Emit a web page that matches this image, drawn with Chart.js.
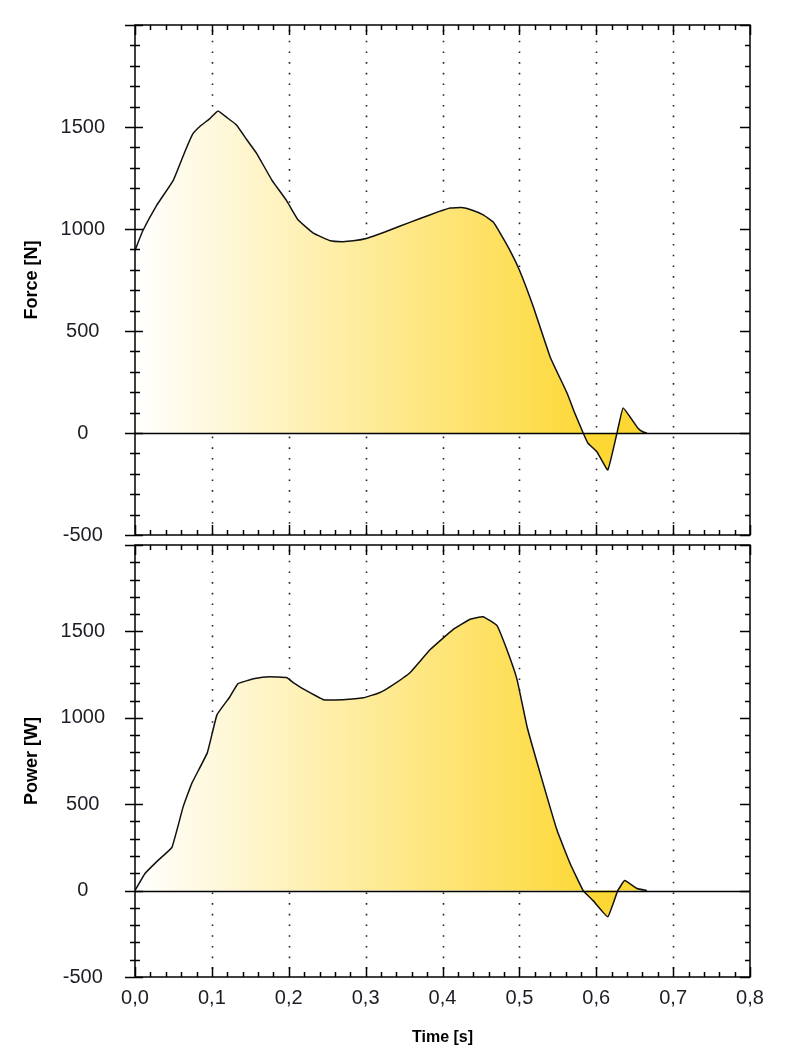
<!DOCTYPE html>
<html>
<head>
<meta charset="utf-8">
<script src="https://cdn.jsdelivr.net/npm/chart.js@4.4.1/dist/chart.umd.min.js"></script>
<style>
  html, body { margin: 0; padding: 0; background: #fff; }
  #wrap { position: relative; width: 789px; height: 1062px; }
  #c-force { position: absolute; left: 0; top: 0; width: 789px; height: 545px; }
  #c-power { position: absolute; left: 0; top: 540px; width: 789px; height: 522px; }
</style>
</head>
<body>
<div id="wrap">
  <canvas id="c-force" width="789" height="545"></canvas>
  <canvas id="c-power" width="789" height="522"></canvas>
</div>
<script>
// ==================== DATA ====================

const forceTime = [0, 0.01, 0.028, 0.05, 0.065, 0.075, 0.085, 0.097, 0.108, 0.12, 0.132, 0.145, 0.158, 0.178, 0.197, 0.212, 0.232, 0.254, 0.27, 0.284, 0.302, 0.325, 0.345, 0.37, 0.395, 0.41, 0.425, 0.438, 0.453, 0.466, 0.475, 0.487, 0.5, 0.518, 0.54, 0.562, 0.572, 0.583, 0.589, 0.601, 0.615, 0.627, 0.635, 0.654, 0.661, 0.666];
const forceValues = [895, 990, 1115, 1240, 1380, 1465, 1505, 1540, 1578, 1545, 1510, 1440, 1372, 1240, 1140, 1045, 980, 942, 938, 942, 955, 985, 1015, 1050, 1085, 1103, 1105, 1093, 1069, 1034, 980, 900, 799, 620, 373, 196, 98, 0, -49, -93, -181, 0, 123, 25, 5, 0];

const powerTime = [0, 0.013, 0.03, 0.048, 0.0625, 0.074, 0.094, 0.1066, 0.1235, 0.134, 0.156, 0.1756, 0.197, 0.207, 0.218, 0.245, 0.27, 0.297, 0.318, 0.332, 0.358, 0.384, 0.414, 0.436, 0.4526, 0.4707, 0.4837, 0.497, 0.51, 0.527, 0.549, 0.566, 0.583, 0.596, 0.615, 0.628, 0.637, 0.653, 0.666];
const powerValues = [0, 99, 175, 250, 483, 622, 797, 1017, 1122, 1198, 1227, 1238, 1233, 1200, 1169, 1105, 1105, 1116, 1145, 1180, 1262, 1395, 1512, 1570, 1585, 1535, 1395, 1221, 948, 680, 349, 157, 0, -58, -151, 0, 58, 12, 0];

const xTickLabels = ['0,0', '0,1', '0,2', '0,3', '0,4', '0,5', '0,6', '0,7', '0,8'];
const yTickLabels = ['-500', '0', '500', '1000', '1500', ''];

// ==================== STYLE ====================

const TICK_FONT = { family: "'Liberation Sans', Arial, sans-serif", size: 20 };
const TICK_COLOR = '#1d1d26';
const GOLD = '#fdd835';

function toPoints(xs, ys) {
  return xs.map((t, i) => ({ x: t, y: ys[i] }));
}

function fillGradient(context) {
  const chart = context.chart;
  if (!chart.chartArea) return GOLD;
  const xs = chart.scales.x;
  const g = chart.ctx.createLinearGradient(xs.getPixelForValue(0), 0, xs.getPixelForValue(0.6), 0);
  g.addColorStop(0, '#ffffff');
  g.addColorStop(1, GOLD);
  return g;
}

// ==================== FRAME / TICKS PLUGIN ====================

const frameTicks = {
  id: 'frameTicks',
  beforeDatasetsDraw(chart) {
    const { ctx, chartArea: a, scales: { x } } = chart;
    ctx.save();
    ctx.strokeStyle = '#222';
    ctx.lineWidth = 1.6;
    ctx.setLineDash([1.6, 9.1]);
    for (let i = 1; i < xTickLabels.length - 1; i++) {
      const px = Math.round(x.getPixelForValue(i / 10)) + 0.5;
      ctx.beginPath();
      ctx.moveTo(px, a.top + 5);
      ctx.lineTo(px, a.bottom);
      ctx.stroke();
    }
    ctx.restore();
  },
  afterDatasetsDraw(chart) {
    const { ctx, chartArea: a, scales: { x, y } } = chart;
    ctx.save();
    ctx.strokeStyle = '#000';
    ctx.lineWidth = 1.5;

    // zero line
    const y0 = Math.round(y.getPixelForValue(0)) + 0.5;
    ctx.beginPath();
    ctx.moveTo(a.left, y0);
    ctx.lineTo(a.right, y0);
    ctx.stroke();

    // frame
    ctx.strokeRect(a.left, a.top, a.right - a.left, a.bottom - a.top);

    // y ticks (left crosses axis, right inward)
    for (let i = 0; i <= 25; i++) {
      const v = -500 + i * 100;
      const py = Math.round(y.getPixelForValue(v)) + 0.5;
      const major = v % 500 === 0;
      ctx.beginPath();
      if (major) {
        ctx.moveTo(a.left - 10, py); ctx.lineTo(a.left + 8, py);
        ctx.moveTo(a.right - 10, py); ctx.lineTo(a.right, py);
      } else {
        ctx.moveTo(a.left - 5, py); ctx.lineTo(a.left + 5, py);
        ctx.moveTo(a.right - 5, py); ctx.lineTo(a.right, py);
      }
      ctx.stroke();
    }

    // x ticks (inward, top and bottom)
    for (let i = 0; i <= 40; i++) {
      const px = Math.round(x.getPixelForValue(i * 0.02)) + 0.5;
      const len = i % 5 === 0 ? 10 : 5;
      ctx.beginPath();
      ctx.moveTo(px, a.top); ctx.lineTo(px, a.top + len);
      ctx.moveTo(px, a.bottom); ctx.lineTo(px, a.bottom - len);
      ctx.stroke();
    }
    ctx.restore();
  }
};

// ==================== CHARTS ====================

function yScale(title) {
  return {
    min: -500,
    max: 2000,
    grid: { display: false, drawTicks: false },
    border: { display: false },
    ticks: {
      stepSize: 500,
      crossAlign: 'center',
      padding: 30,
      font: TICK_FONT,
      color: TICK_COLOR,
      callback: (value, index) => yTickLabels[index]
    },
    title: {
      display: true,
      text: title,
      color: '#000',
      font: { family: "'Liberation Sans', Arial, sans-serif", size: 18, weight: 'bold' },
      padding: { top: 21, bottom: 0 }
    },
    // fixed axis width, and no extra space for the end labels
    afterFit: s => { s.width = 135; s.paddingTop = 0; s.paddingBottom = 0; }
  };
}

function makeChart(id, label, xs, ys, isBottom) {
  const xScale = isBottom ? {
    type: 'linear',
    min: 0,
    max: 0.8,
    grid: { display: false, drawTicks: false },
    border: { display: false },
    ticks: {
      stepSize: 0.1,
      autoSkip: false,
      maxRotation: 0,
      padding: 9,
      font: TICK_FONT,
      color: TICK_COLOR,
      callback: (value, index) => xTickLabels[index]
    },
    title: {
      display: true,
      text: 'Time [s]',
      color: '#000',
      font: { family: "'Liberation Sans', Arial, sans-serif", size: 16, weight: 'bold' },
      padding: { top: 0, bottom: 15 }
    },
    afterFit: s => { s.height = 85; }
  } : { type: 'linear', min: 0, max: 0.8, display: false };

  return new Chart(document.getElementById(id), {
    type: 'line',
    data: {
      datasets: [{
        label: label,
        data: toPoints(xs, ys),
        borderColor: '#111',
        borderWidth: 1.5,
        pointRadius: 0,
        tension: 0.1,
        fill: 'origin',
        backgroundColor: fillGradient
      }]
    },
    options: {
      responsive: false,
      animation: false,
      layout: { padding: isBottom ? { left: 0, top: 5, right: 39, bottom: 0 } : { left: 0, top: 25, right: 39, bottom: 10 } },
      plugins: { legend: { display: false }, tooltip: { enabled: false } },
      scales: { x: xScale, y: yScale(label) }
    },
    plugins: [frameTicks]
  });
}

makeChart('c-force', 'Force [N]', forceTime, forceValues, false);
makeChart('c-power', 'Power [W]', powerTime, powerValues, true);
</script>
</body>
</html>
